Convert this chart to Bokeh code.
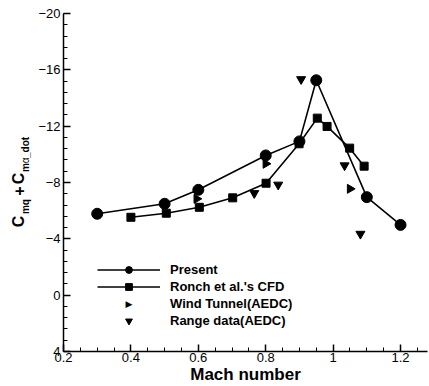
import math
from bokeh.plotting import figure
from bokeh.layouts import row
from bokeh.models import Range1d, FixedTicker, Legend, LegendItem, Label
from bokeh.core.properties import value
from bokeh.embed import file_html
from bokeh.resources import INLINE

# Data
present_mach = [0.3, 0.5, 0.6, 0.8, 0.9, 0.95, 1.1, 1.2]
present_val = [-5.78, -6.49, -7.48, -9.92, -10.92, -15.26, -6.96, -4.99]

ronch_mach = [0.40, 0.505, 0.603, 0.702, 0.801, 0.899, 0.953, 0.982, 1.049, 1.092]
ronch_val = [-5.53, -5.82, -6.24, -6.91, -7.95, -10.75, -12.57, -11.98, -10.44, -9.16]

wind_mach = [0.595, 0.80, 1.05]
wind_val = [-6.84, -9.33, -7.55]

range_mach = [0.766, 0.837, 0.905, 1.034, 1.081]
range_val = [-7.24, -7.84, -15.33, -9.21, -4.35]

x_ticks = [0.2, 0.4, 0.6, 0.8, 1.0, 1.2]
y_ticks = [-20, -16, -12, -8, -4, 0, 4]

FONT = "Liberation Sans"
W, H = 429, 386
LW = 34  # width of the strip that holds the rotated y-axis title

p = figure(width=W - LW, height=H, output_backend="svg", toolbar_location=None,
           x_range=Range1d(0.2, 1.28), y_range=Range1d(4, -20),
           min_border_left=63 - LW, min_border_right=2, min_border_top=13, min_border_bottom=35)
p.grid.visible = False
p.outline_line_color = None
p.background_fill_color = "white"
p.border_fill_color = "white"

minor_x = [round(0.2 + 0.05 * i, 2) for i in range(22)]
minor_y = [round(-20 + 0.8 * i, 1) for i in range(31)]
p.xaxis.ticker = FixedTicker(ticks=x_ticks, minor_ticks=minor_x)
p.yaxis.ticker = FixedTicker(ticks=y_ticks, minor_ticks=minor_y)
p.xaxis.major_label_overrides = {1.0: "1"}

for ax in (p.xaxis, p.yaxis):
    ax.axis_line_color = "black"
    ax.axis_line_width = 1.5
    ax.major_tick_line_color = "black"
    ax.major_tick_line_width = 1.5
    ax.minor_tick_line_color = "black"
    ax.major_tick_in = 7
    ax.major_tick_out = 0
    ax.minor_tick_in = 4
    ax.minor_tick_out = 0
    ax.major_label_text_font = FONT
    ax.major_label_text_font_size = "13px"
    ax.major_label_text_color = "black"

p.xaxis.major_label_standoff = 1
p.yaxis.major_label_standoff = 3
p.xaxis.axis_label = "Mach number"
p.xaxis.axis_label_text_font = FONT
p.xaxis.axis_label_text_font_size = "17px"
p.xaxis.axis_label_text_font_style = "bold"
p.xaxis.axis_label_text_color = "black"
p.xaxis.axis_label_standoff = 0

r1 = p.line(present_mach, present_val, line_color="black", line_width=1.6)
r1m = p.scatter(present_mach, present_val, marker="circle", size=11, fill_color="black", line_color="black")
r2 = p.line(ronch_mach, ronch_val, line_color="black", line_width=1.6)
r2m = p.scatter(ronch_mach, ronch_val, marker="square", size=8, fill_color="black", line_color="black")
r3 = p.scatter(wind_mach, wind_val, marker="triangle", angle=-math.pi / 2, size=9,
               fill_color="black", line_color="black")
# the legend cannot rotate a marker: its swatch is drawn as a text symbol below
r3_key = p.scatter(wind_mach, wind_val, marker="triangle", angle=-math.pi / 2, size=9,
                   fill_alpha=0, line_alpha=0)
r4 = p.scatter(range_mach, range_val, marker="inverted_triangle", size=9,
               fill_color="black", line_color="black")

legend = Legend(items=[
    LegendItem(label="Present", renderers=[r1, r1m]),
    LegendItem(label="Ronch et al.'s CFD", renderers=[r2, r2m]),
    LegendItem(label="Wind Tunnel(AEDC)", renderers=[r3_key]),
    LegendItem(label="Range data(AEDC)", renderers=[r4]),
], location=(34, 22))
legend.background_fill_alpha = 0
legend.border_line_color = None
legend.padding = 0
legend.margin = 0
legend.spacing = 0
legend.glyph_width = 63
legend.glyph_height = 17
legend.label_height = 17
legend.label_standoff = 10
legend.label_text_font = FONT
legend.label_text_font_size = "13px"
legend.label_text_font_style = "bold"
legend.label_text_color = "black"
p.add_layout(legend)

p.add_layout(Label(x=65.5, y=47.5, x_units="screen", y_units="screen", text="\u25b6",
                   text_font="DejaVu Sans", text_font_size="9px", text_color="black",
                   text_align="center", text_baseline="middle"))

# Strip to the left with the rotated y-axis title: C_mq + C_m alpha_dot
t = figure(width=LW, height=H, output_backend="svg", toolbar_location=None,
           x_range=Range1d(0, LW), y_range=Range1d(0, H),
           x_axis_type=None, y_axis_type=None, min_border=0)
t.grid.visible = False
t.outline_line_color = None
t.background_fill_color = "white"
t.border_fill_color = "white"

title_parts = ["C", "mq", "+", "C", "m", "\u03b1", "_dot"]
part_x = [18, 24.5, 18, 18, 24.5, 24.5, 24.5]
part_y = [H - 244, H - 229, H - 208, H - 195, H - 181, H - 171, H - 165]
part_size = ["16px", "10px", "16px", "16px", "10px", "10px", "10px"]
part_style = ["bold", "bold", "bold", "bold", "bold", "normal", "bold"]
for s, xx, yy, fs, st in zip(title_parts, part_x, part_y, part_size, part_style):
    t.text(x=[xx], y=[yy], text=[s], angle=math.pi / 2, text_font=value(FONT),
           text_font_size=value(fs), text_font_style=st, text_color="black",
           text_align="left", text_baseline="alphabetic")

layout = row(t, p, spacing=0)
open("out.html", "w").write(file_html(layout, INLINE))
